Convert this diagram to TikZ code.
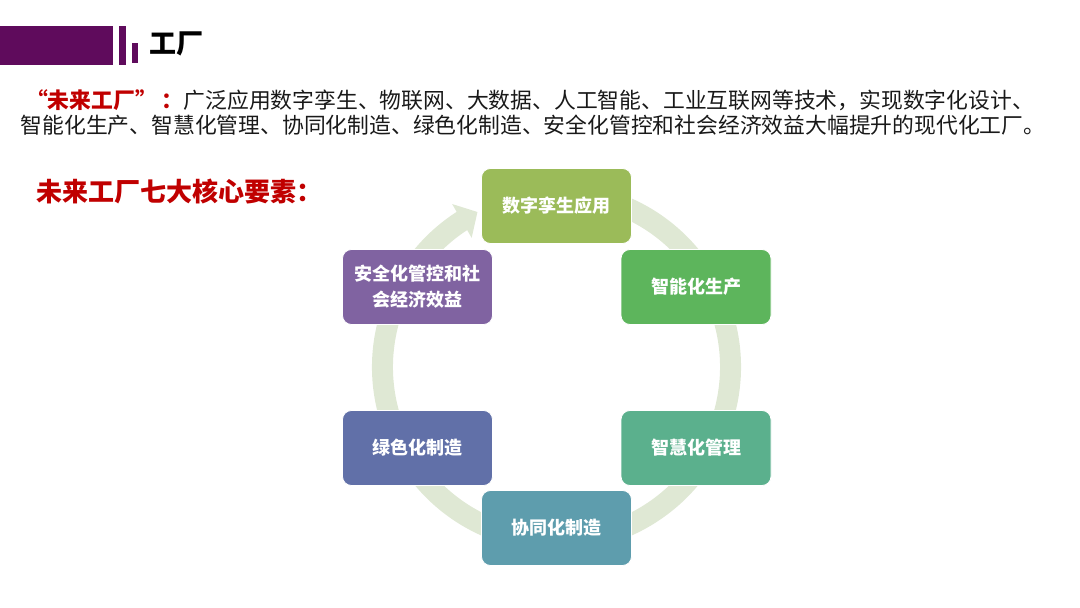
\documentclass[tikz,border=0pt]{standalone}
\usepackage{fontspec}
\setmainfont{Noto Sans CJK SC}
\usepackage{tikz}
\usetikzlibrary{positioning, arrows.meta, bending}
\usepackage{color}
\definecolor{barpurple}{HTML}{5F0B5C}
\definecolor{keyred}{HTML}{C00000}
\definecolor{ringgreen}{HTML}{DFE8D4}
\definecolor{twin}{HTML}{9BBB59}
\definecolor{prod}{HTML}{5DB55C}
\definecolor{mgmt}{HTML}{5BB08D}
\definecolor{coop}{HTML}{5E9DAD}
\definecolor{eco}{HTML}{6170A8}
\definecolor{safe}{HTML}{8063A1}

\begin{document}
\begin{tikzpicture}[x=1pt, y=-1pt, on grid,
    elem/.style={rectangle, on grid, rounded corners=9pt, draw=white, line width=0.8pt,
      minimum width=150pt, minimum height=75pt, text=white, align=center,
      font=\bfseries\fontsize{18}{26}\selectfont}]
      \useasboundingbox (0,0) rectangle (1080,608);
      \fill[barpurple] (0,26) rectangle (113,65);
      \fill[barpurple] (119,26) rectangle (126,65);
      \fill[barpurple] (132,43) rectangle (138,63);
      \node[anchor=west, inner sep=0, font=\bfseries\fontsize{27}{30}\selectfont] (title) at (149,44) {工厂};
      \node[inner sep=0, text=black!90, font=\fontsize{21.8}{25}\selectfont] (line1) at (530,100.5)
        {{\bfseries\color{keyred}“未来工厂” ：}广泛应用数字孪生、物联网、大数据、人工智能、工业互联网等技术，实现数字化设计、};
      \node[inner sep=0, text=black!90, font=\fontsize{21.8}{25}\selectfont] (line2) at (533,125.5)
        {智能化生产、智慧化管理、协同化制造、绿色化制造、安全化管控和社会经济效益大幅提升的现代化工厂。};
      \node[anchor=west, inner sep=0, text=keyred, font=\bfseries\fontsize{26}{28}\selectfont] (heading) at (36,191)
        {未来工厂七大核心要素：};
      \node[inner sep=0, minimum size=0pt] (c) at (556.5,367) {};
      \draw[ringgreen, line width=21pt, -{Triangle[width=38pt, length=18pt]}]
        ([shift={(75:174pt)}]c.center) arc[start angle=75, end angle=-243, radius=174pt];
      \node[elem, fill=twin, above=161pt of c] (twin) {数字孪生应用};
      \node[elem, fill=prod, above right=80pt and 139.5pt of c] (prod) {智能化生产};
      \node[elem, fill=mgmt, below right=81pt and 139.5pt of c] (mgmt) {智慧化管理};
      \node[elem, fill=coop, below=161pt of c] (coop) {协同化制造};
      \node[elem, fill=eco, below left=81pt and 139pt of c] (eco) {绿色化制造};
      \node[elem, fill=safe, above left=80pt and 139pt of c] (safe) {安全化管控和社\\会经济效益};
    \end{tikzpicture}
\end{document}
